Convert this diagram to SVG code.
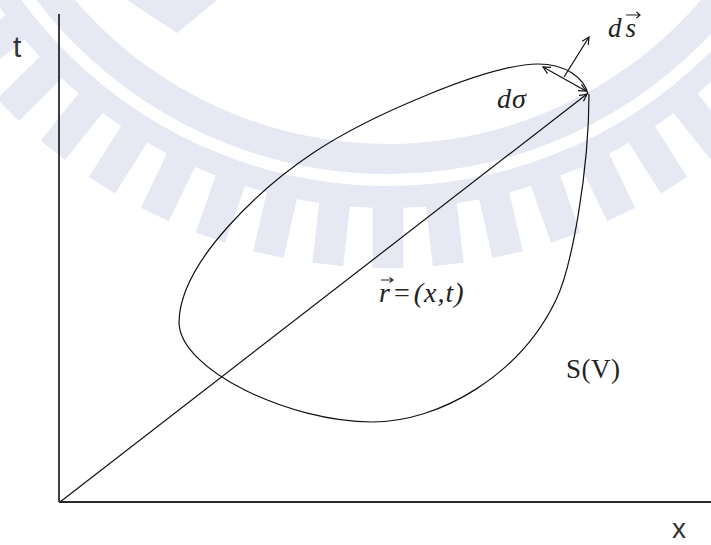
<svg xmlns="http://www.w3.org/2000/svg" xmlns:xlink="http://www.w3.org/1999/xlink" width="711" height="545" viewBox="0 0 711 545">
  <style>
    .wm { fill: none; stroke: #e6e9f4; }
    .wmf { fill: #e6e9f4; stroke: none; }
    .axis { stroke: #2a2a2a; stroke-width: 1.8; fill: none; }
    .ln { stroke: #111; stroke-width: 1.2; fill: none; }
    .sans { font-family: "Liberation Sans", Arial, sans-serif; fill: #333; }
    .serif { font-family: "Liberation Serif", "Times New Roman", serif; fill: #222; }
    .it { font-style: italic; }
  </style>
  <defs>
    <marker id="head" viewBox="0 0 10 10" refX="9" refY="5" markerWidth="9" markerHeight="9" markerUnits="userSpaceOnUse" orient="auto-start-reverse">
      <path d="M1,1 L9,5 L1,9" fill="none" stroke="#111" stroke-width="1.3"/>
    </marker>
    <rect id="tooth" x="-15.5" y="472" width="31" height="64" class="wmf"/>
  </defs>
  <rect width="711" height="545" fill="#fff"/>

  <g id="watermark">
    <circle cx="388" cy="-268" r="427" class="wm" stroke-width="30"/>
    <circle cx="388" cy="-268" r="465" class="wm" stroke-width="22"/>
    <g transform="translate(388,-268)">
      <use xlink:href="#tooth" transform="rotate(58.05)"/>
      <use xlink:href="#tooth" transform="rotate(51.6)"/>
      <use xlink:href="#tooth" transform="rotate(45.15)"/>
      <use xlink:href="#tooth" transform="rotate(38.7)"/>
      <use xlink:href="#tooth" transform="rotate(32.25)"/>
      <use xlink:href="#tooth" transform="rotate(25.8)"/>
      <use xlink:href="#tooth" transform="rotate(19.35)"/>
      <use xlink:href="#tooth" transform="rotate(12.9)"/>
      <use xlink:href="#tooth" transform="rotate(6.45)"/>
      <use xlink:href="#tooth" transform="rotate(0)"/>
      <use xlink:href="#tooth" transform="rotate(-6.45)"/>
      <use xlink:href="#tooth" transform="rotate(-12.9)"/>
      <use xlink:href="#tooth" transform="rotate(-19.35)"/>
      <use xlink:href="#tooth" transform="rotate(-25.8)"/>
      <use xlink:href="#tooth" transform="rotate(-32.25)"/>
      <use xlink:href="#tooth" transform="rotate(-38.7)"/>
      <use xlink:href="#tooth" transform="rotate(-45.15)"/>
    </g>
    <polygon points="127,0 217,0 177,33" class="wmf"/>
  </g>

  <g id="axes">
    <line x1="59" y1="14" x2="59" y2="502" class="axis"/>
    <line x1="59" y1="502" x2="711" y2="502" class="axis"/>
    <text id="label-t" x="13" y="57" class="sans" font-size="30">t</text>
    <text id="label-x" x="672" y="538" class="sans" font-size="28">x</text>
  </g>

  <g id="surface">
    <path class="ln" d="M 588,94 C 584,78 566,64 538,64 C 490,64 370,115 313,153 C 265,185 180,260 179,322 C 179,370 290,422 372,422 C 440,422 520,375 556,300 C 572,267 589,170 589,94"/>
    <text id="label-SV" x="566" y="378" class="serif" font-size="27" letter-spacing="0.5">S(V)</text>
  </g>

  <g id="connectors">
    <line id="r-vector" x1="60" y1="502" x2="587" y2="94" class="ln" marker-end="url(#head)"/>
    <line id="dsigma-arrow" x1="543" y1="67" x2="586" y2="91" class="ln" marker-start="url(#head)" marker-end="url(#head)"/>
    <line id="ds-arrow" x1="564" y1="77" x2="589" y2="37" class="ln" marker-end="url(#head)"/>
  </g>

  <g id="labels">
    <g id="label-ds">
      <text x="608" y="37" class="serif it" font-size="27" letter-spacing="4">ds</text>
      <path d="M626,15 L640,15 M636.5,12 L640,15 L636.5,18" fill="none" stroke="#222" stroke-width="1.2"/>
    </g>
    <text id="label-dsigma" x="497" y="108" class="serif it" font-size="28" letter-spacing="1">dσ</text>
    <g id="label-r">
      <text x="379" y="302" class="serif it" font-size="28" letter-spacing="1">r<tspan dx="3" font-style="normal">=</tspan><tspan dx="3">(x,t)</tspan></text>
      <path d="M381,280 L393,280 M389.5,277.5 L393,280 L389.5,282.5" fill="none" stroke="#222" stroke-width="1.1"/>
    </g>
  </g>
</svg>
